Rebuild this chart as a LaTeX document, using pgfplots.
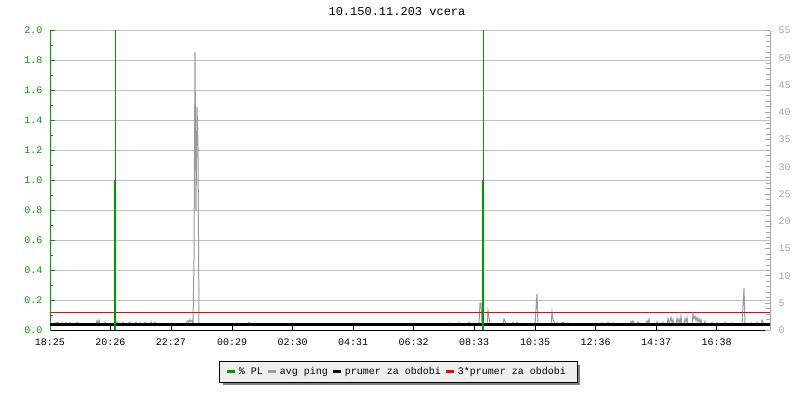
\documentclass[border=0pt]{standalone}
\usepackage{pgfplots}
\pgfplotsset{compat=1.18}
\usepackage{fontspec}
\setmainfont{Liberation Mono}
\usetikzlibrary{shadows}
\definecolor{plgreen}{RGB}{0,153,0}
\definecolor{pinggrey}{RGB}{155,155,155}
\definecolor{gridgrey}{RGB}{192,192,192}
\definecolor{rightgrey}{RGB}{165,165,165}
\definecolor{legbg}{RGB}{238,238,238}
\definecolor{shadowgrey}{RGB}{128,128,128}

\pgfplotstableread{
x y
0 1.0
10 1.0
12 1.5
14 1.3
16 1.5
18 1.0
22 1.0
24 1.4
26 1.0
30 1.0
32 1.4
34 1.0
38 1.0
40 1.5
42 1.0
52 1.0
54 1.5
56 1.4
58 1.0
92 1.0
94 1.8
96 1.3
98 1.9
100 1.0
108 1.0
110 1.5
112 1.0
132 1.0
134 1.6
136 1.0
144 1.0
146 1.5
148 1.0
156 1.0
158 1.4
160 1.5
162 1.0
170 1.0
172 1.5
174 1.0
178 1.0
180 1.4
182 1.0
188 1.0
190 1.5
192 1.0
200 1.0
202 1.6
204 1.0
208 1.0
210 1.5
212 1.0
272 1.0
274 1.6
276 1.8
278 1.5
280 2.0
282 1.6
284 1.8
286 1.2
288 13
290 51
292 22
294 41
296 34
298 1.2
300 1.0
396 1.0
398 1.5
400 1.0
500 1.0
600 1.0
700 1.0
798 1.0
800 1.4
802 1.0
816 1.0
818 1.4
820 1.0
836 1.0
838 1.5
840 1.0
856 1.0
858 1.2
860 5.0
862 5.0
864 1.0
874 1.0
876 3.6
878 2.4
880 1.0
906 1.0
908 2.1
910 1.7
912 1.0
924 1.0
926 1.5
928 1.0
932 1.0
934 1.5
936 1.0
970 1.0
972 4.0
974 6.7
976 1.0
1002 1.0
1004 3.4
1006 2.0
1008 1.6
1010 1.0
1014 1.4
1016 1.0
1022 1.0
1024 1.5
1026 1.3
1028 1.5
1030 1.0
1034 1.0
1036 1.4
1038 1.0
1102 1.0
1104 1.4
1106 1.0
1114 1.0
1116 1.5
1118 1.0
1124 1.0
1126 1.4
1128 1.0
1160 1.0
1162 1.7
1164 1.4
1166 1.8
1168 1.5
1170 1.0
1174 1.0
1176 1.6
1178 1.4
1180 1.0
1192 1.0
1194 1.8
1196 1.3
1198 2.1
1200 1.0
1212 1.0
1214 1.6
1216 1.0
1224 1.0
1226 1.5
1228 1.0
1234 1.0
1236 2.2
1238 1.4
1240 1.8
1242 2.4
1244 1.3
1246 2.0
1248 1.0
1252 1.0
1254 2.3
1256 1.5
1258 2.1
1260 1.2
1262 2.6
1264 1.0
1268 1.0
1270 2.2
1272 1.6
1274 2.4
1276 1.0
1284 1.0
1286 3.0
1288 2.2
1290 2.6
1292 1.8
1294 2.4
1296 1.6
1298 2.2
1300 1.5
1302 2.0
1304 1.0
1308 1.0
1310 1.7
1312 1.0
1322 1.0
1324 1.5
1326 1.0
1332 1.0
1334 1.4
1336 1.0
1348 1.0
1350 1.5
1352 1.0
1362 1.0
1364 1.4
1366 1.0
1384 1.0
1386 4.6
1388 7.8
1390 1.0
1400 1.0
1402 1.4
1404 1.0
1412 1.0
1414 1.5
1416 1.0
1422 1.0
1424 1.9
1426 1.5
1428 1.0
1440 1.0
}\pingtable

\pgfplotsset{
  common/.style={
    scale only axis, width=720bp, height=300bp,
    at={(50bp,69.5bp)}, anchor=south west,
    xmin=0, xmax=1440,
    tick label style={font=\fontsize{10bp}{12bp}\selectfont},
    /pgf/number format/assume math mode=true,
    clip=true,
  }
}

\begin{document}
\begin{tikzpicture}
\path[use as bounding box] (0,0) rectangle (800bp,400bp);
\fill[white] (0,0) rectangle (800bp,400bp);

% left axis with grid and time axis
\begin{axis}[common,
  ymin=0, ymax=2,
  axis x line*=bottom, axis y line*=left,
  x axis line style={black, line width=1bp, -},
  y axis line style={plgreen, line width=1bp, -},
  ytick={0,0.2,...,2.01},
  minor y tick num=1,
  yticklabel style={plgreen, /pgf/number format/fixed, /pgf/number format/fixed zerofill, /pgf/number format/precision=1, xshift=-4bp},
  ytick style={plgreen, line width=1bp},
  ymajorgrids, grid style={gridgrey, line width=1bp},
  tick align=inside,
  major tick length=5bp, minor tick length=3bp,
  xtick={0,121,242,364,485,606,727,848,970,1091,1212,1333},
  xticklabels={18:25,20:26,22:27,00:29,02:30,04:31,06:32,08:33,10:35,12:36,14:37,16:38},
  xtick style={black, line width=1bp},
  xticklabel style={black, yshift=-5bp},
]
\addplot[draw=none] coordinates {(0,0)};
\end{axis}

% right axis: ping in ms
\begin{axis}[common,
  ymin=0, ymax=55,
  axis x line=none, axis y line*=right,
  y axis line style={rightgrey, line width=1bp, -},
  ytick={0,5,...,55},
  minor y tick num=4,
  yticklabel style={rightgrey, xshift=5bp},
  ytick style={rightgrey, line width=1bp},
  tick align=inside,
  major tick length=5bp, minor tick length=4bp,
]
\addplot[pinggrey, line width=1bp, mark=none] table[x=x, y=y] {\pingtable};
\addplot[black, line width=3bp, mark=none] coordinates {(0,1.1) (1440,1.1)};
\addplot[red, line width=1.3bp, mark=none] coordinates {(0,3.3) (1440,3.3)};
\end{axis}

% packet loss (left scale) on top, with legend
\begin{axis}[common,
  ymin=0, ymax=2,
  axis lines=none,
  legend columns=4,
  legend style={at={(0.484,-0.138)}, anchor=center,
    draw=black, line width=1bp, fill=legbg,
    drop shadow={shadow xshift=3bp, shadow yshift=-3bp, fill=shadowgrey, opacity=1},
    font=\fontsize{10bp}{12bp}\selectfont,
    inner xsep=7bp, inner ysep=5bp,
    nodes={inner xsep=4bp, inner ysep=1bp},
    /tikz/every even column/.append style={column sep=1bp}},
  legend image code/.code={\begin{scope}[#1]\pgfpathrectangle{\pgfpoint{0bp}{-1.5bp}}{\pgfpoint{8bp}{3bp}}\pgfusepath{fill}\end{scope}},
]
\addplot[plgreen, line width=1bp, ycomb, mark=none, forget plot] coordinates {(130,2.0) (866,2.0)};
\addplot[plgreen, line width=2.5bp, ycomb, mark=none, forget plot] coordinates {(130,1.0) (866,1.0)};
\addlegendimage{plgreen}
\addlegendentry{\% PL}
\addlegendimage{pinggrey}
\addlegendentry{avg ping}
\addlegendimage{black}
\addlegendentry{prumer za obdobi}
\addlegendimage{red}
\addlegendentry{3*prumer za obdobi}
\end{axis}

\node[font=\fontsize{12bp}{14bp}\selectfont, anchor=center] at (397bp,388bp) {10.150.11.203 vcera};
\end{tikzpicture}
\end{document}
